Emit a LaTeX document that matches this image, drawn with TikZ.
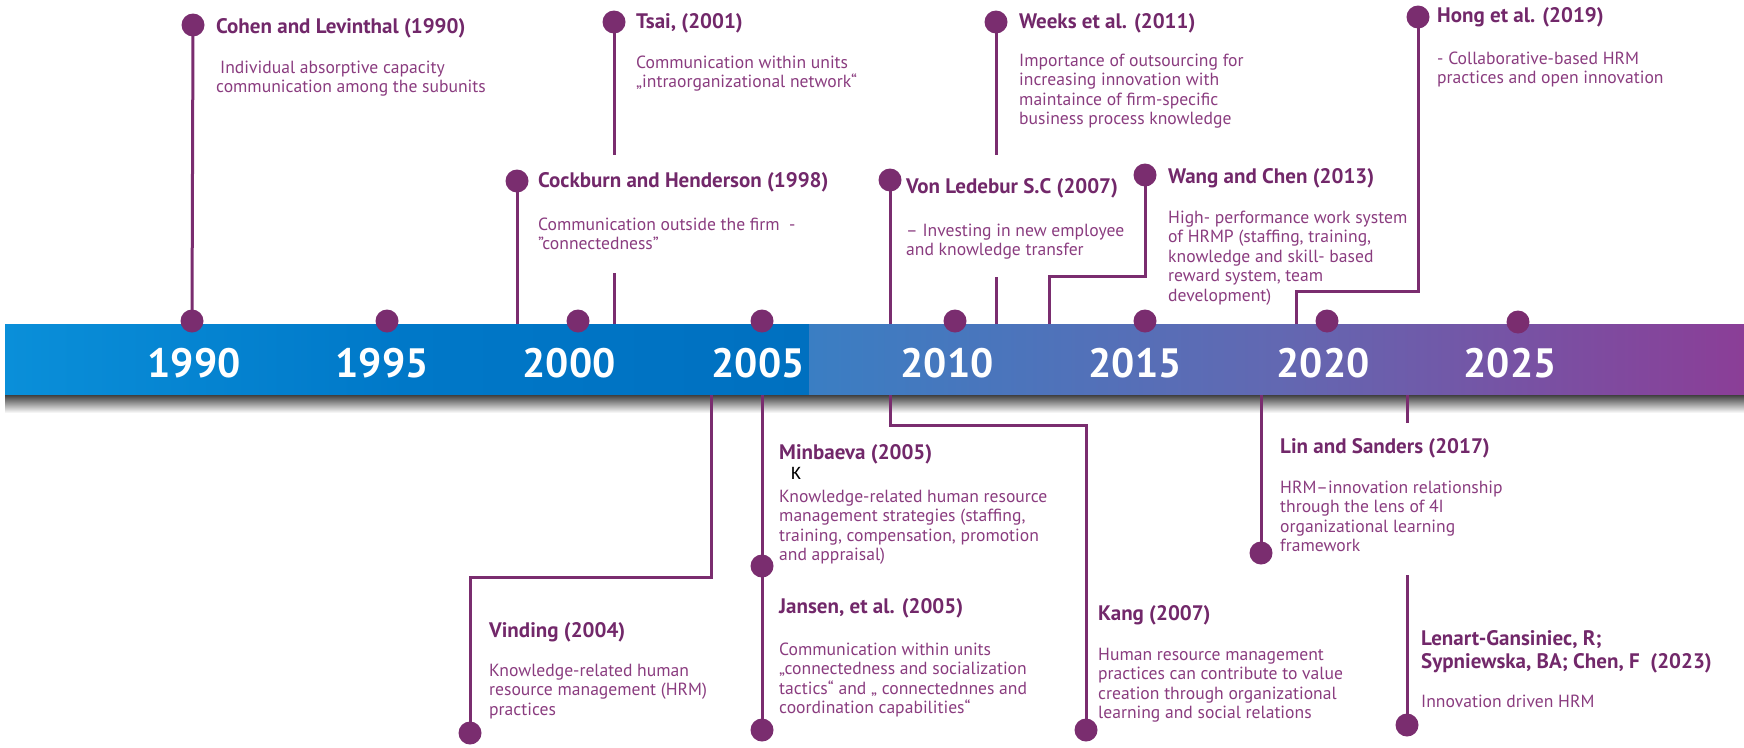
\documentclass[tikz,border=0pt]{standalone}
\usepackage{fontspec}
\setmainfont{PT Sans}
\newfontfamily\kfont{Carlito}
\definecolor{pur}{HTML}{7A2D6F}
\definecolor{tcol}{HTML}{72286A}
\definecolor{bcol}{HTML}{8A3C7F}
\definecolor{blueL}{HTML}{0A8FD9}
\definecolor{blueM}{HTML}{0078C8}
\definecolor{blueR}{HTML}{0070C0}
\definecolor{steel}{HTML}{3A7EC3}
\definecolor{midv}{HTML}{6268B2}
\definecolor{violet}{HTML}{8B3E97}
\newcommand{\lns}[1]{\begin{tabular}[t]{@{}l@{}}#1\end{tabular}}
\tikzset{
  dot/.style={circle, fill=pur, minimum size=23pt, inner sep=0pt},
  conn/.style={draw=pur, line width=3pt},
  ttl/.style={anchor=base west, inner sep=0pt, text=tcol, font=\fontsize{21}{23}\selectfont\bfseries},
  bdy/.style={anchor=base west, inner sep=0pt, text=bcol, font=\fontsize{17.6}{19.5}\selectfont},
  yr/.style={anchor=base, inner sep=0pt, text=white, font=\fontsize{41}{45}\selectfont\bfseries}
}
\begin{document}
\begin{tikzpicture}[x=1pt,y=-1pt]
\useasboundingbox (0,0) rectangle (1744,747);
% bar
\shade[left color=blueL, right color=blueR, middle color=blueM] (5,324) rectangle (809,395);
\shade[left color=steel, right color=violet, middle color=midv] (809,324) rectangle (1744,395);
\shade[top color=black!75, bottom color=white] (5,395) rectangle (1744,413);
% positions
\coordinate (y1990) at (192,321);
\coordinate (y1995) at (387,321);
\coordinate (y2000) at (578,321);
\coordinate (y2005) at (762,321);
\coordinate (y2010) at (955,321);
\coordinate (y2015) at (1145,321);
\coordinate (y2020) at (1327,321);
\coordinate (y2025) at (1518,322);
\coordinate (cohen) at (193,25);
\coordinate (tsai) at (614,22);
\coordinate (cock) at (517,181);
\coordinate (weeks) at (996,22);
\coordinate (ledebur) at (890,180);
\coordinate (wang) at (1145,175);
\coordinate (hong) at (1418,17);
\coordinate (vinding) at (470,733);
\coordinate (minb) at (762,566);
\coordinate (jansen) at (762,730);
\coordinate (kang) at (1086,730);
\coordinate (lin) at (1261,553);
\coordinate (lenart) at (1407,725);
% free ends on the bar
\coordinate (tsaiA) at (614,155);
\coordinate (tsaiB) at (614,273);
\coordinate (tsaiBar) at (614,324);
\coordinate (cockBar) at (517,324);
\coordinate (weeksA) at (996,155);
\coordinate (weeksB) at (996,277);
\coordinate (weeksBar) at (996,324);
\coordinate (ledBar) at (890,324);
\coordinate (wangBar) at (1049,324);
\coordinate (hongBar) at (1296,324);
\coordinate (vindBar) at (711,395);
\coordinate (minbBar) at (762,395);
\coordinate (kangBar) at (890,395);
\coordinate (linBar) at (1261,395);
\coordinate (lenBar) at (1407,395);
\coordinate (lenA) at (1407,423);
\coordinate (lenB) at (1407,575);
% connectors
\draw[conn] (cohen) -- (y1990);
\draw[conn] (tsai) -- (tsaiA);
\draw[conn] (tsaiB) -- (tsaiBar);
\draw[conn] (cock) -- (cockBar);
\draw[conn] (weeks) -- (weeksA);
\draw[conn] (weeksB) -- (weeksBar);
\draw[conn] (ledebur) -- (ledBar);
\draw[conn] (wang) |- (1049,276) -- (wangBar);
\draw[conn] (hong) |- (1296,291) -- (hongBar);
\draw[conn] (vindBar) |- (470,577) -- (vinding);
\draw[conn] (minbBar) -- (jansen);
\draw[conn] (kangBar) |- (1086,425) -- (kang);
\draw[conn] (linBar) -- (lin);
\draw[conn] (lenBar) -- (lenA);
\draw[conn] (lenB) -- (lenart);
% dots
\foreach \c in {y1990,y1995,y2000,y2005,y2010,y2015,y2020,y2025,cohen,tsai,cock,weeks,ledebur,wang,hong,vinding,minb,jansen,kang,lin,lenart}
  \node[dot] (\c-dot) at (\c) {};
% years
\node[yr] (l1990) at (194,377) {1990};
\node[yr] (l1995) at (382,377) {1995};
\node[yr] (l2000) at (569,377) {2000};
\node[yr] (l2005) at (758,377) {2005};
\node[yr] (l2010) at (947,377) {2010};
\node[yr] (l2015) at (1135,377) {2015};
\node[yr] (l2020) at (1323,377) {2020};
\node[yr] (l2025) at (1510,377) {2025};
% top texts
\node[ttl] (cohenT) at (216,33) {Cohen and Levinthal (1990)};
\node[bdy] (cohenB) at (216,73) {\lns{\hspace{4pt}Individual absorptive capacity\\communication among the subunits}};
\node[ttl] (tsaiT) at (636,28) {Tsai, (2001)};
\node[bdy] (tsaiB2) at (636,68) {\lns{Communication within units\\„intraorganizational network“}};
\node[ttl] (cockT) at (538,187) {Cockburn and Henderson (1998)};
\node[bdy] (cockB2) at (538,230) {\lns{Communication outside the firm\ \ -\\"connectedness"}};
\node[ttl] (weeksT) at (1019,28) {Weeks et al. (2011)};
\node[bdy] (weeksB2) at (1019,66) {\lns{Importance of outsourcing for\\increasing innovation with\\maintaince of firm-specific\\business process knowledge}};
\node[ttl] (ledT) at (906,193) {Von Ledebur S.C (2007)};
\node[bdy] (ledB2) at (906,236) {\lns{– Investing in new employee\\and knowledge transfer}};
\node[ttl] (wangT) at (1168,183) {Wang and Chen (2013)};
\node[bdy] (wangB2) at (1168,223) {\lns{High- performance work system\\of HRMP (staffing, training,\\knowledge and skill- based\\reward system, team\\development)}};
\node[ttl] (hongT) at (1437,22) {Hong et al. (2019)};
\node[bdy] (hongB2) at (1437,64) {\lns{- Collaborative-based HRM\\practices and open innovation}};
% bottom texts
\node[ttl] (vindT) at (489,637) {Vinding (2004)};
\node[bdy] (vindB2) at (489,676) {\lns{Knowledge-related human\\resource management (HRM)\\practices}};
\node[ttl] (minbT) at (779,459) {Minbaeva (2005)};
\node[anchor=base west, inner sep=0pt, font=\kfont\fontsize{19}{21}\selectfont] (kay) at (791,479) {K};
\node[bdy] (minbB2) at (779,502) {\lns{Knowledge-related human resource\\management strategies (staffing,\\training, compensation, promotion\\and appraisal)}};
\node[ttl] (janT) at (779,613) {Jansen, et al. (2005)};
\node[bdy] (janB2) at (779,655) {\lns{Communication within units\\„connectedness and socialization\\tactics“ and „ connectednnes and\\coordination capabilities“}};
\node[ttl] (kangT) at (1098,620) {Kang (2007)};
\node[bdy] (kangB2) at (1098,660) {\lns{Human resource management\\practices can contribute to value\\creation through organizational\\learning and social relations}};
\node[ttl] (linT) at (1280,453) {Lin and Sanders (2017)};
\node[bdy] (linB2) at (1280,493) {\lns{HRM–innovation relationship\\through the lens of 4I\\organizational learning\\framework}};
\node[ttl] (lenT) at (1421,645) {\lns{Lenart-Gansiniec, R;\\Sypniewska, BA; Chen, F\ \ (2023)}};
\node[bdy] (lenB2) at (1421,707) {Innovation driven HRM};
\end{tikzpicture}
\end{document}
